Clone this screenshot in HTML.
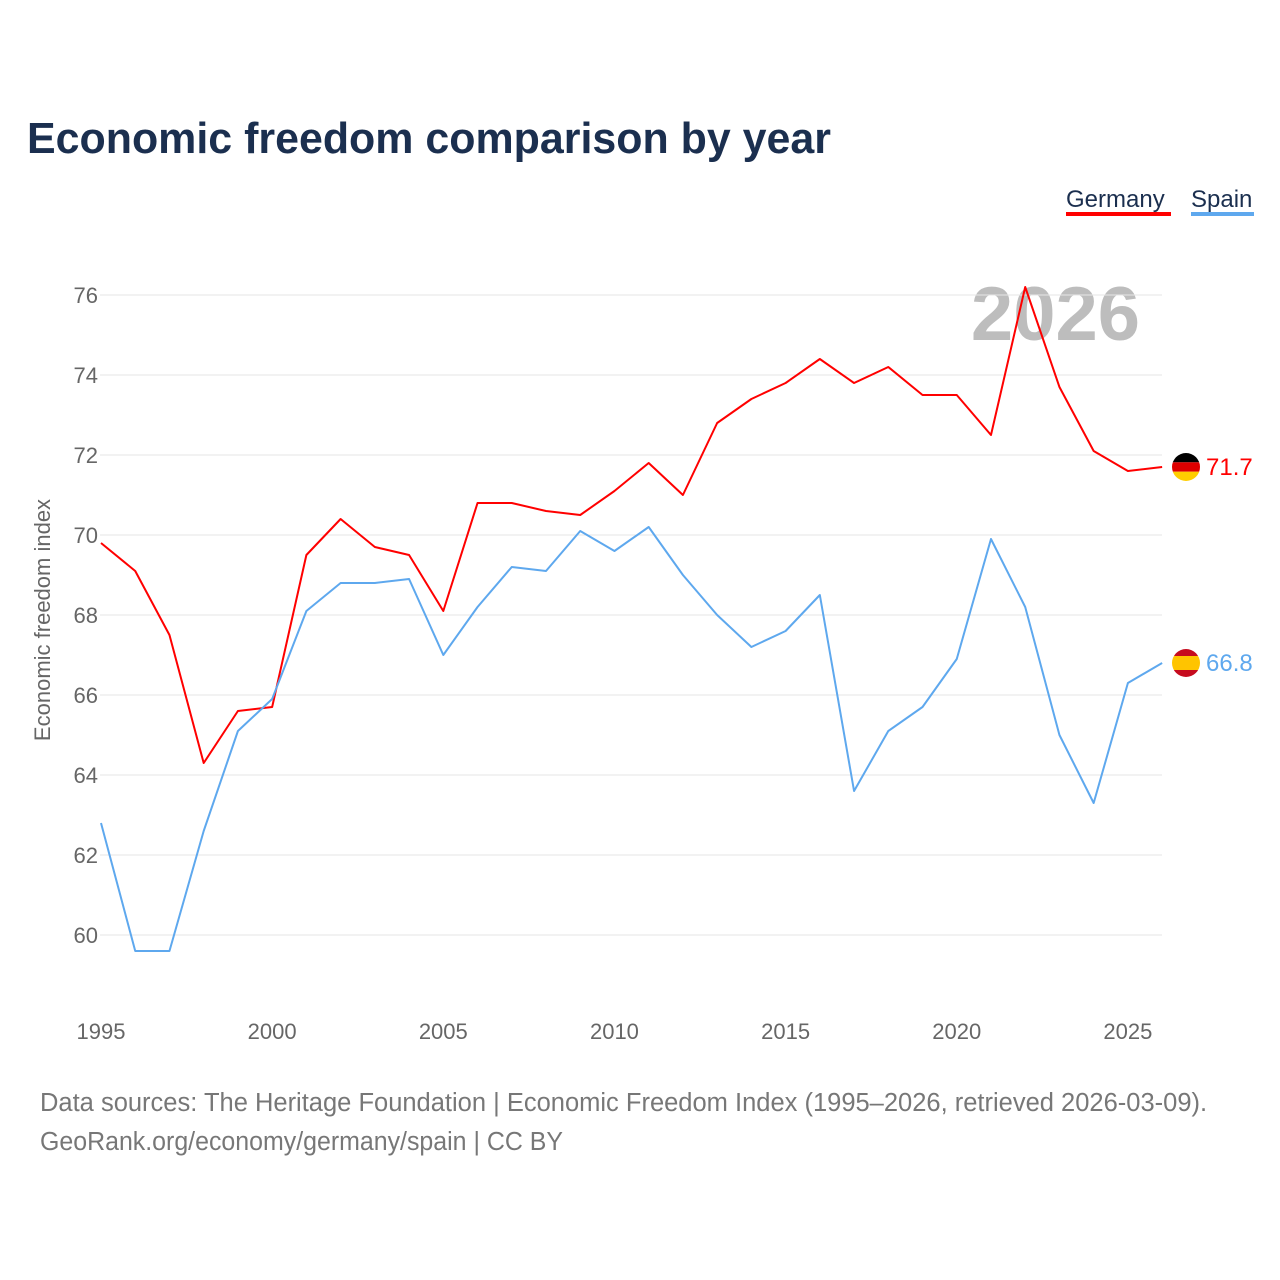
<!DOCTYPE html>
<html><head><meta charset="utf-8"><style>
body{margin:0;background:#fff;font-family:"Liberation Sans",sans-serif;}
</style></head><body>
<svg width="1280" height="1280" xmlns="http://www.w3.org/2000/svg" style="display:block">
<text x="27" y="153" font-size="44" font-weight="bold" fill="#1b2f4f" textLength="804" lengthAdjust="spacingAndGlyphs">Economic freedom comparison by year</text>
<g>
<text x="1066" y="207" font-size="24" fill="#1b2f4f">Germany</text>
<rect x="1066" y="212" width="105" height="4" fill="#ff0000"/>
<text x="1191" y="207" font-size="24" fill="#1b2f4f">Spain</text>
<rect x="1191" y="212" width="63" height="4" fill="#5ea8ee"/>
</g>
<text x="1140" y="340" font-size="76" font-weight="bold" fill="#bdbdbd" text-anchor="end">2026</text>
<text transform="translate(50,620) rotate(-90)" font-size="22" fill="#666" text-anchor="middle">Economic freedom index</text>
<g id="grid"></g><g id="xt"></g><g id="lines"></g>
<text x="40" y="1111" font-size="25.5" fill="#777">Data sources: The Heritage Foundation | Economic Freedom Index (1995–2026, retrieved 2026-03-09).</text>
<text x="40" y="1150" font-size="25.5" fill="#777" textLength="523" lengthAdjust="spacingAndGlyphs">GeoRank.org/economy/germany/spain | CC BY</text>
</svg>
<script>
const years=[1995,1996,1997,1998,1999,2000,2001,2002,2003,2004,2005,2006,2007,2008,2009,2010,2011,2012,2013,2014,2015,2016,2017,2018,2019,2020,2021,2022,2023,2024,2025,2026];
const germany=[69.8,69.1,67.5,64.3,65.6,65.7,69.5,70.4,69.7,69.5,68.1,70.8,70.8,70.6,70.5,71.1,71.8,71.0,72.8,73.4,73.8,74.4,73.8,74.2,73.5,73.5,72.5,76.2,73.7,72.1,71.6,71.7];
const spain=[62.8,59.6,59.6,62.6,65.1,65.9,68.1,68.8,68.8,68.9,67.0,68.2,69.2,69.1,70.1,69.6,70.2,69.0,68.0,67.2,67.6,68.5,63.6,65.1,65.7,66.9,69.9,68.2,65.0,63.3,66.3,66.8];
const yTicks=[60,62,64,66,68,70,72,74,76];
const xTicks=[1995,2000,2005,2010,2015,2020,2025];
const NS="http://www.w3.org/2000/svg";
const X=y=>101+(y-1995)*34.23, Y=v=>295+(76-v)*40;
function mk(t,a,p){const e=document.createElementNS(NS,t);for(const k in a)e.setAttribute(k,a[k]);p.appendChild(e);return e;}
const grid=document.getElementById('grid');
yTicks.forEach(v=>{
 const l=mk('line',{x1:100,x2:1162,y1:Y(v),y2:Y(v),stroke:'#e6e6e6','stroke-width':1},grid);
 
 
 const t=mk('text',{x:98,y:Y(v)+8,'font-size':22,fill:'#666','text-anchor':'end'},grid);
 t.textContent=v;
 
 
});
const xt=document.getElementById('xt');
xTicks.forEach(y=>{
 const t=mk('text',{x:X(y),y:1039,'font-size':22,fill:'#666','text-anchor':'middle'},xt);
 t.textContent=y;
 
 
});
const lines=document.getElementById('lines');
function series(d,c,name,flag){
 const p=mk('polyline',{points:d.map((v,i)=>X(years[i])+','+Y(v)).join(' '),fill:'none',stroke:c,'stroke-width':2,'stroke-linejoin':'round'},lines);
 
 
 const lv=d[d.length-1],cy=Y(lv),cx=1186;
 const g=mk('g',{},lines);
 
 
 const cid='clip'+name;
 const cp=mk('clipPath',{id:cid},g);mk('circle',{cx:cx,cy:cy,r:14},cp);
 flag.forEach((f,i)=>mk('rect',{x:cx-14,y:cy-14+f[0],width:28,height:f[1],fill:f[2],'clip-path':'url(#'+cid+')'},g));
 const t=mk('text',{x:1206,y:cy+8,'font-size':24,fill:c},lines);
 t.textContent=lv.toFixed(1);
 
 
}
series(germany,'#ff0000','germany',[[0,9.3,'#000'],[9.3,9.4,'#dd0000'],[18.7,9.3,'#ffce00']]);
series(spain,'#5ea8ee','spain',[[0,7,'#c60b1e'],[7,14,'#ffc400'],[21,7,'#c60b1e']]);
</script>
</body></html>
